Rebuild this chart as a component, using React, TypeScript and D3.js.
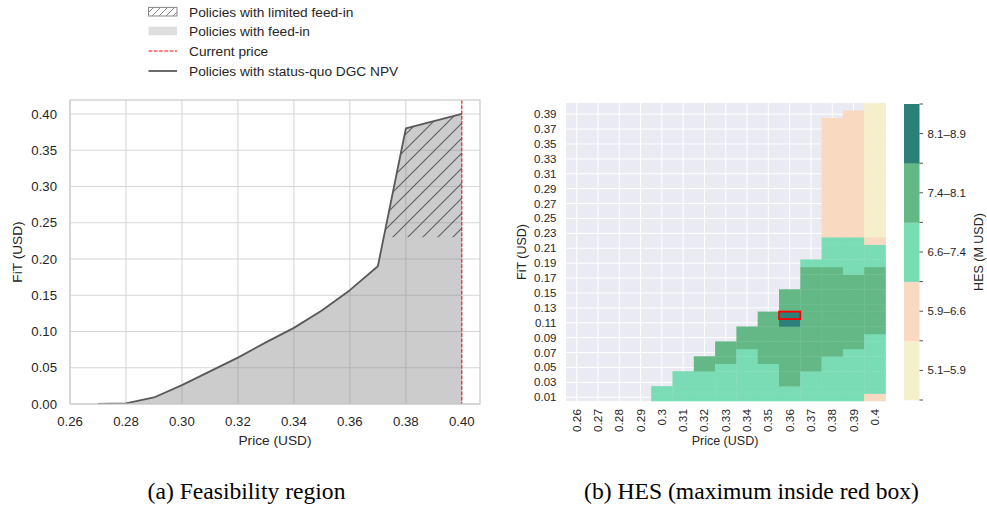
import React from 'react';
import * as d3 from 'd3';

// ---------- Panel (a): feasibility region ----------
const npvPrices = [0.27, 0.28, 0.29, 0.30, 0.31, 0.32, 0.33, 0.34, 0.35, 0.36, 0.37, 0.38, 0.39, 0.40];
const npvFit = [0.0, 0.001, 0.009, 0.026, 0.045, 0.064, 0.085, 0.105, 0.129, 0.157, 0.19, 0.38, 0.39, 0.40];
const limitedFeedInFit = 0.23;
const currentPrice = 0.40;
const aXTicks = [0.26, 0.28, 0.30, 0.32, 0.34, 0.36, 0.38, 0.40];
const aYTicks = [0.0, 0.05, 0.10, 0.15, 0.20, 0.25, 0.30, 0.35, 0.40];
const legendLabels = [
  'Policies with limited feed-in',
  'Policies with feed-in',
  'Current price',
  'Policies with status-quo DGC NPV',
];

// ---------- Panel (b): HES heatmap ----------
const hesPrices = [0.26, 0.27, 0.28, 0.29, 0.3, 0.31, 0.32, 0.33, 0.34, 0.35, 0.36, 0.37, 0.38, 0.39, 0.4];
const fitRows = [
  0.01, 0.02, 0.03, 0.04, 0.05, 0.06, 0.07, 0.08, 0.09, 0.10,
  0.11, 0.12, 0.13, 0.14, 0.15, 0.16, 0.17, 0.18, 0.19, 0.20,
  0.21, 0.22, 0.23, 0.24, 0.25, 0.26, 0.27, 0.28, 0.29, 0.30,
  0.31, 0.32, 0.33, 0.34, 0.35, 0.36, 0.37, 0.38, 0.39, 0.40,
];
// per price column: [fit from, fit to, HES (M USD)]
const hesSegments: [number, number, number][][] = [
  [],
  [],
  [],
  [],
  [[0.01, 0.02, 7.0]],
  [[0.01, 0.04, 7.0]],
  [[0.01, 0.04, 7.0], [0.05, 0.06, 7.7]],
  [[0.01, 0.05, 7.0], [0.06, 0.08, 7.7]],
  [[0.01, 0.07, 7.0], [0.08, 0.10, 7.7]],
  [[0.01, 0.05, 7.0], [0.06, 0.12, 7.8]],
  [[0.01, 0.02, 7.1], [0.03, 0.10, 7.8], [0.11, 0.12, 8.5], [0.13, 0.15, 7.8]],
  [[0.01, 0.04, 7.1], [0.05, 0.18, 7.8], [0.19, 0.19, 7.2]],
  [[0.01, 0.06, 7.1], [0.07, 0.18, 7.7], [0.19, 0.22, 7.0], [0.23, 0.38, 6.2]],
  [[0.01, 0.07, 7.0], [0.08, 0.17, 7.6], [0.18, 0.22, 6.9], [0.23, 0.39, 6.1]],
  [[0.01, 0.01, 6.4], [0.02, 0.09, 7.0], [0.10, 0.18, 7.6], [0.19, 0.21, 6.9], [0.22, 0.22, 6.3], [0.23, 0.40, 5.5]],
];
const hesBinEdges = [5.9, 6.6, 7.4, 8.1];
const hesBinLabels = ['5.1–5.9', '5.9–6.6', '6.6–7.4', '7.4–8.1', '8.1–8.9'];
const hesBinColors = ['#f5efcc', '#fad9c1', '#7adcb4', '#63b886', '#2d7f79'];
const maxPrice = 0.36;
const maxFit = 0.12;

const SANS = '"Liberation Sans", Arial, sans-serif';
const SERIF = '"Liberation Serif", "Times New Roman", serif';
const TXT = '#262626';

function PanelA() {
  const x = d3.scaleLinear().domain([0.26, 0.4065]).range([70, 480]);
  const y = d3.scaleLinear().domain([0, 0.4193]).range([404, 100]);
  const pts: [number, number][] = npvPrices.map((p, i) => [p, npvFit[i]]);
  const line = d3.line<[number, number]>().x(d => x(d[0])).y(d => y(d[1]));
  const fillPts: [number, number][] = [[npvPrices[0], 0], ...pts, [npvPrices[npvPrices.length - 1], 0]];
  let cross: [number, number] = pts[0];
  for (let i = 1; i < pts.length; i++) {
    const [p0, f0] = pts[i - 1];
    const [p1, f1] = pts[i];
    if (f0 <= limitedFeedInFit && f1 >= limitedFeedInFit) {
      const t = (limitedFeedInFit - f0) / (f1 - f0);
      cross = [p0 + t * (p1 - p0), limitedFeedInFit];
      break;
    }
  }
  const hatchPts: [number, number][] = [
    cross,
    ...pts.filter(d => d[1] > limitedFeedInFit),
    [npvPrices[npvPrices.length - 1], limitedFeedInFit],
  ];
  const poly = (arr: [number, number][]) => arr.map(d => `${x(d[0])},${y(d[1])}`).join(' ');

  const legY = [11.7, 31, 51, 71];
  return (
    <g>
      <defs>
        <pattern id="hatch" patternUnits="userSpaceOnUse" width="15" height="15">
          <path d="M0,15 L15,0 M-3.75,3.75 L3.75,-3.75 M11.25,18.75 L18.75,11.25" stroke="#5e5e5e" strokeWidth="1.1" />
        </pattern>
        <pattern id="hatchLeg" patternUnits="userSpaceOnUse" width="7" height="7">
          <path d="M0,7 L7,0 M-1.75,1.75 L1.75,-1.75 M5.25,8.75 L8.75,5.25" stroke="#888" strokeWidth="1" />
        </pattern>
        <clipPath id="clipA">
          <rect x={70} y={100} width={410} height={304} />
        </clipPath>
      </defs>
      {aXTicks.map(t => (
        <line key={'gx' + t} x1={x(t)} x2={x(t)} y1={100} y2={404} stroke="#d6d6d6" strokeWidth={1.1} />
      ))}
      {aYTicks.map(t => (
        <line key={'gy' + t} x1={70} x2={480} y1={y(t)} y2={y(t)} stroke="#d6d6d6" strokeWidth={1.1} />
      ))}
      <g clipPath="url(#clipA)">
        <polygon points={poly(fillPts)} fill="#808080" fillOpacity={0.4} />
        <polygon points={poly(hatchPts)} fill="url(#hatch)" />
        <path d={line(pts) || ''} fill="none" stroke="#595959" strokeWidth={1.8} strokeLinejoin="round" />
        <line x1={x(currentPrice)} x2={x(currentPrice)} y1={100} y2={404} stroke="#ff0000" strokeWidth={1} strokeDasharray="3.7,1.6" />
      </g>
      <rect x={70} y={100} width={410} height={304} fill="none" stroke="#cccccc" strokeWidth={1.25} />
      {aXTicks.map(t => (
        <text key={'tx' + t} x={x(t)} y={426.2} textAnchor="middle" fontSize={13.2} fill={TXT} fontFamily={SANS}>
          {d3.format('.2f')(t)}
        </text>
      ))}
      {aYTicks.map(t => (
        <text key={'ty' + t} x={57} y={y(t) + 4.7} textAnchor="end" fontSize={13.2} fill={TXT} fontFamily={SANS}>
          {d3.format('.2f')(t)}
        </text>
      ))}
      <text x={275} y={444.5} textAnchor="middle" fontSize={13.7} fill={TXT} fontFamily={SANS}>Price (USD)</text>
      <text transform="translate(22,252) rotate(-90)" textAnchor="middle" fontSize={13.7} fill={TXT} fontFamily={SANS}>FiT (USD)</text>
      <rect x={148.5} y={legY[0] - 4.3} width={28.5} height={8.6} fill="url(#hatchLeg)" stroke="#888" strokeWidth={1} />
      <rect x={148.5} y={legY[1] - 4.3} width={28.5} height={8.6} fill="#dedede" />
      <line x1={148.5} x2={177} y1={legY[2]} y2={legY[2]} stroke="#ff0000" strokeWidth={1} strokeDasharray="3.7,1.6" />
      <line x1={148.5} x2={177} y1={legY[3]} y2={legY[3]} stroke="#595959" strokeWidth={1.8} />
      {legendLabels.map((l, i) => (
        <text key={l} x={189} y={legY[i] + 4.8} fontSize={13.7} fill={TXT} fontFamily={SANS}>{l}</text>
      ))}
    </g>
  );
}

function PanelB() {
  const xB = d3.scaleBand<string>().domain(hesPrices.map(String)).range([566, 885.5]);
  const yB = d3.scaleBand<string>().domain(fitRows.map(f => f.toFixed(2)).reverse()).range([103, 401]);
  const color = d3.scaleThreshold<number, string>().domain(hesBinEdges).range(hesBinColors);
  const cells: { p: number; f: number; v: number }[] = [];
  hesPrices.forEach((p, i) => {
    hesSegments[i].forEach(([a, b, v]) => {
      fitRows.forEach(f => {
        if (f >= a - 1e-9 && f <= b + 1e-9) cells.push({ p, f, v });
      });
    });
  });
  const yLabels = fitRows.filter((_, i) => i % 2 === 0);
  const cbY = d3.scaleBand<string>().domain(hesBinLabels.slice().reverse()).range([104, 400]);
  const cx = (p: number) => (xB(String(p)) as number) + xB.bandwidth() / 2;
  const cy = (f: number) => (yB(f.toFixed(2)) as number) + yB.bandwidth() / 2;
  return (
    <g>
      <rect x={566} y={103} width={319.5} height={298} fill="#eaeaf2" />
      {hesPrices.map(p => (
        <line key={'vx' + p} x1={cx(p)} x2={cx(p)} y1={103} y2={401} stroke="#fff" strokeWidth={1} />
      ))}
      {yLabels.map(f => (
        <line key={'hy' + f} x1={566} x2={885.5} y1={cy(f)} y2={cy(f)} stroke="#fff" strokeWidth={1} />
      ))}
      {cells.map((c, i) => (
        <rect key={i} x={xB(String(c.p))} y={yB(c.f.toFixed(2))} width={xB.bandwidth() + 0.3} height={yB.bandwidth() + 0.3} fill={color(c.v)} />
      ))}
      <rect x={xB(String(maxPrice))} y={yB(maxFit.toFixed(2))} width={xB.bandwidth()} height={yB.bandwidth()} fill="none" stroke="#ff0000" strokeWidth={1.8} />
      {yLabels.map(f => (
        <text key={'yl' + f} x={556.5} y={cy(f) + 4} textAnchor="end" fontSize={11.5} fill={TXT} fontFamily={SANS}>{f.toFixed(2)}</text>
      ))}
      {hesPrices.map(p => (
        <text key={'xl' + p} transform={`translate(${cx(p) + 4},409) rotate(-90)`} textAnchor="end" fontSize={11.8} fill={TXT} fontFamily={SANS}>{String(p)}</text>
      ))}
      <text x={725} y={445} textAnchor="middle" fontSize={12.5} fill={TXT} fontFamily={SANS}>Price (USD)</text>
      <text transform="translate(526,252) rotate(-90)" textAnchor="middle" fontSize={12.5} fill={TXT} fontFamily={SANS}>FiT (USD)</text>
      {hesBinLabels.map((l, i) => (
        <rect key={'cb' + l} x={904} y={cbY(l)} width={15.5} height={cbY.bandwidth() + 0.3} fill={hesBinColors[i]} />
      ))}
      {[0, 1, 2, 3, 4, 5].map(k => (
        <line key={'cbt' + k} x1={919.5} x2={923} y1={104 + k * cbY.bandwidth()} y2={104 + k * cbY.bandwidth()} stroke={TXT} strokeWidth={0.8} />
      ))}
      {hesBinLabels.map(l => (
        <g key={'cbl' + l}>
          <line x1={919.5} x2={923} y1={(cbY(l) as number) + cbY.bandwidth() / 2} y2={(cbY(l) as number) + cbY.bandwidth() / 2} stroke={TXT} strokeWidth={0.8} />
          <text x={927.5} y={(cbY(l) as number) + cbY.bandwidth() / 2 + 4} fontSize={11.5} fill={TXT} fontFamily={SANS}>{l}</text>
        </g>
      ))}
      <text transform="translate(983,252) rotate(-90)" textAnchor="middle" fontSize={12.5} fill={TXT} fontFamily={SANS}>HES (M USD)</text>
    </g>
  );
}

export default function App() {
  return (
    <svg width={987} height={509} style={{ position: 'absolute', left: 0, top: 0, background: '#fff' }}>
      <rect width={987} height={509} fill="#fff" />
      <PanelA />
      <PanelB />
      <text x={246.5} y={498.5} textAnchor="middle" fontSize={23.6} fill="#000" fontFamily={SERIF}>(a) Feasibility region</text>
      <text x={751.5} y={498.5} textAnchor="middle" fontSize={23.6} fill="#000" fontFamily={SERIF}>(b) HES (maximum inside red box)</text>
    </svg>
  );
}
